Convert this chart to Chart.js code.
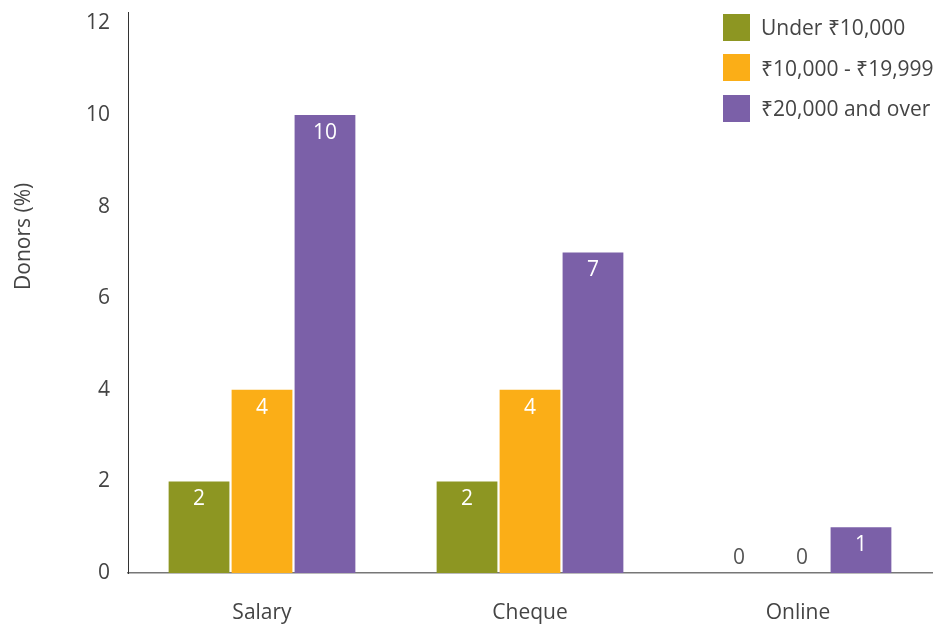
<!DOCTYPE html>
<html lang="en">
<head>
    <meta charset="UTF-8">
    <title>Donors by payment method</title>
    <script src="https://cdn.jsdelivr.net/npm/chart.js"></script>
    <style>
        body {
            margin: 0;
            padding: 0;
            background-color: #fff;
            font-family: 'Open Sans', sans-serif;
        }

        .wrap {
            position: relative;
            width: 941px;
            height: 628px;
        }

        /* legend sits in the top-right corner of the plot */
        .legend {
            position: absolute;
            left: 723px;
            top: 7px;
            color: #444;
            font-size: 21px;
        }

        .legend div {
            display: flex;
            align-items: center;
            height: 40.5px;
        }

        .legend span.box {
            width: 27px;
            height: 27px;
            margin-right: 11px;
        }
    </style>
</head>
<body>
    <div class="wrap">
        <canvas id="donorChart" width="941" height="628"></canvas>
        <div class="legend" id="legend"></div>
    </div>

    <script>
        const categories = ['Salary', 'Cheque', 'Online'];
        const seriesNames = ['Under ₹10,000', '₹10,000 - ₹19,999', '₹20,000 and over'];
        const under10k = [2, 2, 0];
        const from10kTo20k = [4, 4, 0];
        const over20k = [10, 7, 1];
        const yTicks = [0, 2, 4, 6, 8, 10, 12];
        const colors = ['#8D9622', '#FBAE17', '#7B60A8'];

        const FONT = "'Open Sans', sans-serif";

        // value labels: white inside the bar, grey just above the axis for zeros
        const barLabels = {
            id: 'barLabels',
            afterDatasetsDraw(chart) {
                const ctx = chart.ctx;
                ctx.save();
                ctx.font = '21px ' + FONT;
                ctx.textAlign = 'center';
                ctx.textBaseline = 'middle';
                chart.data.datasets.forEach((ds, i) => {
                    chart.getDatasetMeta(i).data.forEach((bar, j) => {
                        const v = ds.data[j];
                        if (v === 0) {
                            ctx.fillStyle = '#555';
                            ctx.fillText(String(v), bar.x + 4, bar.base - 15);
                        } else {
                            ctx.fillStyle = '#fff';
                            ctx.fillText(String(v), bar.x, bar.y + 18);
                        }
                    });
                });
                ctx.restore();
            }
        };

        // rotated axis caption, set a little above the middle of the axis
        const yCaption = {
            id: 'yCaption',
            afterDraw(chart) {
                const ctx = chart.ctx;
                const area = chart.chartArea;
                ctx.save();
                ctx.translate(24, area.top + (area.bottom - area.top) * 0.4);
                ctx.rotate(-Math.PI / 2);
                ctx.font = '21px ' + FONT;
                ctx.fillStyle = '#444';
                ctx.textAlign = 'center';
                ctx.textBaseline = 'middle';
                ctx.fillText('Donors (%)', 0, 0);
                ctx.restore();
            }
        };

        const chart = new Chart(document.getElementById('donorChart'), {
            type: 'bar',
            data: {
                labels: categories,
                datasets: [
                    { label: seriesNames[0], data: under10k, backgroundColor: colors[0] },
                    { label: seriesNames[1], data: from10kTo20k, backgroundColor: colors[1] },
                    { label: seriesNames[2], data: over20k, backgroundColor: colors[2] }
                ]
            },
            options: {
                responsive: false,
                animation: false,
                layout: { padding: { top: 12, right: 9, left: 0, bottom: 0 } },
                datasets: {
                    bar: { categoryPercentage: 0.705, barPercentage: 0.965 }
                },
                plugins: {
                    legend: { display: false },
                    tooltip: { enabled: false }
                },
                scales: {
                    x: {
                        grid: { display: false, drawTicks: false },
                        border: { color: '#777', width: 1.5 },
                        ticks: { color: '#444', font: { family: FONT, size: 21 }, padding: 27 },
                        afterFit(scale) { scale.height = 55; }
                    },
                    y: {
                        min: 0,
                        max: 12.25,
                        afterBuildTicks(scale) {
                            scale.ticks = yTicks.map(v => ({ value: v }));
                        },
                        grid: { display: false, drawTicks: false },
                        border: { color: '#333', width: 1 },
                        ticks: { color: '#444', font: { family: FONT, size: 21 }, padding: 18 },
                        afterFit(scale) {
                            scale.width = 128;
                            // the axis line runs right up to the top padding
                            scale.paddingTop = 0;
                            scale.paddingBottom = 0;
                        }
                    }
                }
            },
            plugins: [barLabels, yCaption]
        });

        // legend built from the same series
        const legendEl = document.getElementById('legend');
        seriesNames.forEach((name, i) => {
            const row = document.createElement('div');
            row.innerHTML = '<span class="box" style="background:' + colors[i] + '"></span>' + name;
            legendEl.appendChild(row);
        });
    </script>
</body>
</html>
